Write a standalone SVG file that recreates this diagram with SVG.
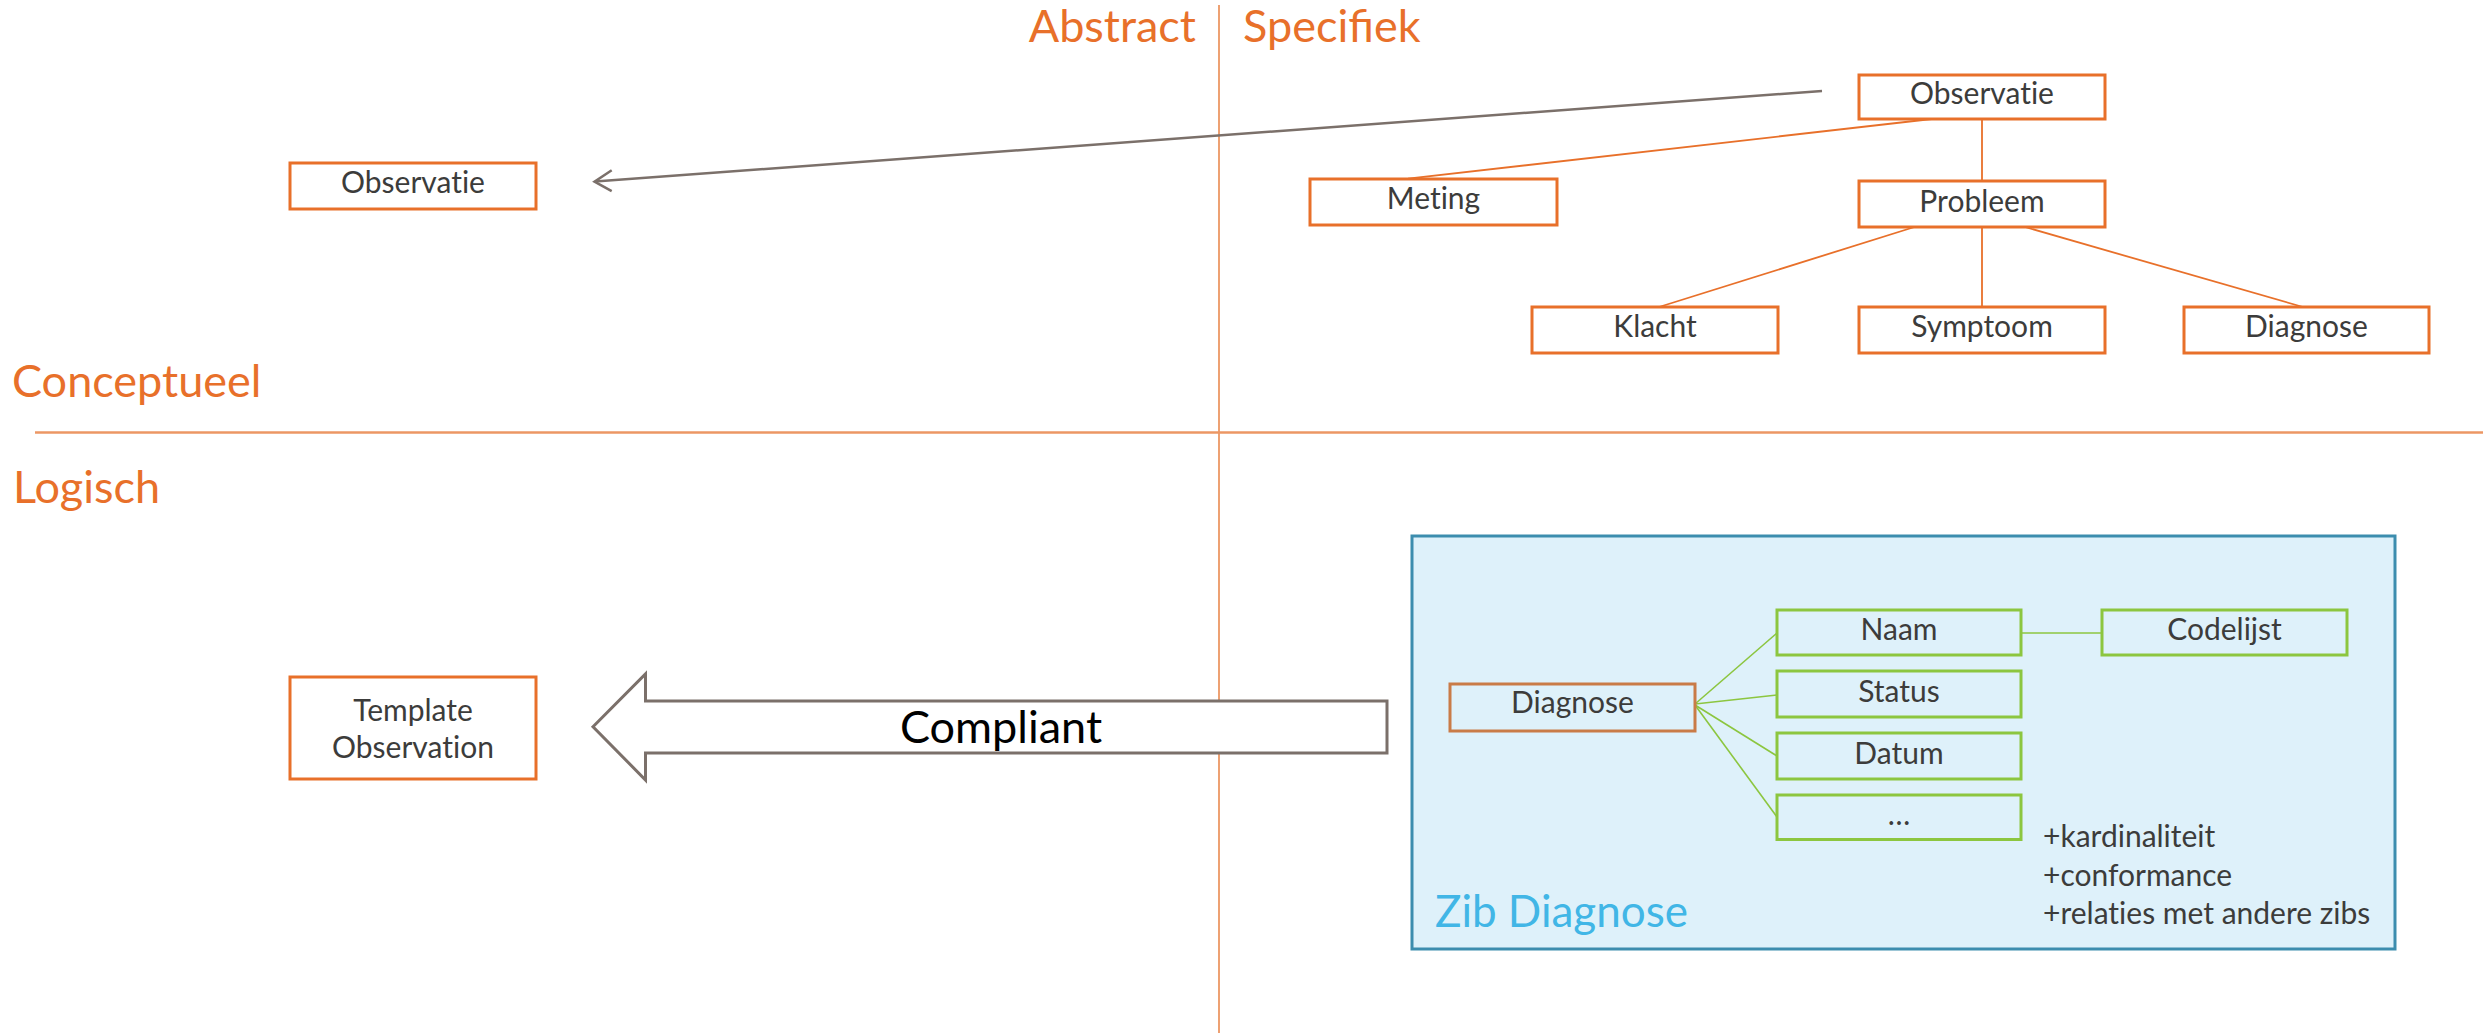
<svg xmlns="http://www.w3.org/2000/svg" width="2483" height="1033" viewBox="0 0 2483 1033">
<style>
.hdr{font-family:Lato,"Noto Sans",sans-serif;font-size:45px;fill:#e8702a}
.lbl{font-family:Lato,"Noto Sans",sans-serif;font-size:30px;fill:#3c3c3b;text-anchor:middle;font-variant-ligatures:none}
.note{font-family:Lato,"Noto Sans",sans-serif;font-size:30px;fill:#3c3c3b;font-variant-ligatures:none}
.obox{fill:#ffffff;stroke:#e8702a;stroke-width:3}
.gbox{fill:none;stroke:#8cc63f;stroke-width:3}
.oline{stroke:#e8702a;stroke-width:1.8;fill:none}
.gline{stroke:#8cc63f;stroke-width:1.6;fill:none}
.axis{stroke:#ec9764;fill:none}
</style>
<rect width="2483" height="1033" fill="#ffffff"/>
<g id="axes">
  <line class="axis" x1="1219" y1="5" x2="1219" y2="1033" stroke-width="1.8"/>
  <line class="axis" x1="35" y1="432.5" x2="2483" y2="432.5" stroke-width="2.5"/>
  <text class="hdr" x="1196" y="42" text-anchor="end">Abstract</text>
  <text class="hdr" x="1243" y="42">Specifiek</text>
  <text class="hdr" x="12" y="397">Conceptueel</text>
  <text class="hdr" x="13" y="503">Logisch</text>
</g>
<g id="connectors">
  <line class="oline" x1="1931.7" y1="119" x2="1408" y2="178.7"/>
  <line class="oline" x1="1982" y1="119" x2="1982" y2="181" stroke="#ec9764"/>
  <line class="oline" x1="1914.5" y1="227" x2="1659" y2="307"/>
  <line class="oline" x1="1982" y1="227" x2="1982" y2="307"/>
  <line class="oline" x1="2025" y1="227" x2="2303" y2="307"/>
  <line x1="1822" y1="91" x2="595" y2="181.6" stroke="#7b706a" stroke-width="2.5"/>
  <polyline points="611.7,170.2 594.5,181.6 611.7,191.2" fill="none" stroke="#7b706a" stroke-width="2.5"/>
  <polygon points="593,726.7 645.5,674 645.5,701 1387,701 1387,753 645.5,753 645.5,780" fill="#ffffff" stroke="#7b706a" stroke-width="3"/>
  <text x="1001" y="743" font-family="Lato,'Noto Sans',sans-serif" font-size="45" fill="#000000" text-anchor="middle">Compliant</text>
</g>
<g id="obs-abstract">
  <rect class="obox" x="290" y="163" width="246" height="46"/>
  <text class="lbl" x="413" y="193">Observatie</text>
</g>
<g id="template-observation">
  <rect class="obox" x="290" y="677" width="246" height="102"/>
  <text class="lbl" x="413" y="721">Template</text>
  <text class="lbl" x="413" y="758">Observation</text>
</g>
<g id="obs-specifiek">
  <rect class="obox" x="1859" y="75" width="246" height="44"/>
  <text class="lbl" x="1982" y="104">Observatie</text>
</g>
<g id="meting">
  <rect class="obox" x="1310" y="179" width="247" height="46"/>
  <text class="lbl" x="1433.5" y="209">Meting</text>
</g>
<g id="probleem">
  <rect class="obox" x="1859" y="181" width="246" height="46"/>
  <text class="lbl" x="1982" y="211.5">Probleem</text>
</g>
<g id="klacht">
  <rect class="obox" x="1532" y="307" width="246" height="46"/>
  <text class="lbl" x="1655" y="336.5">Klacht</text>
</g>
<g id="symptoom">
  <rect class="obox" x="1859" y="307" width="246" height="46"/>
  <text class="lbl" x="1982" y="336.5">Symptoom</text>
</g>
<g id="diagnose">
  <rect class="obox" x="2184" y="307" width="245" height="46"/>
  <text class="lbl" x="2306.5" y="336.5">Diagnose</text>
</g>
<g id="zib-diagnose">
  <rect x="1412" y="536" width="983" height="413" fill="#def1fa" stroke="#3c8dae" stroke-width="3"/>
  <text x="1435" y="927" font-family="Lato,'Noto Sans',sans-serif" font-size="44" fill="#41b6e6">Zib Diagnose</text>
  <text class="note" x="2043" y="847">+kardinaliteit</text>
  <text class="note" x="2043" y="886">+conformance</text>
  <text class="note" x="2043" y="924">+relaties met andere zibs</text>
</g>
<g id="zib-connectors">
  <line class="gline" x1="1695" y1="704" x2="1777" y2="633"/>
  <line class="gline" x1="1695" y1="704" x2="1777" y2="695"/>
  <line class="gline" x1="1695" y1="705" x2="1777" y2="756"/>
  <line class="gline" x1="1695" y1="705" x2="1777" y2="817"/>
  <line class="gline" x1="2021" y1="633" x2="2102" y2="633"/>
</g>
<g id="zib-diagnose-root">
  <rect x="1450" y="684" width="245" height="47" fill="none" stroke="#c97b47" stroke-width="3"/>
  <text class="lbl" x="1572.5" y="713">Diagnose</text>
</g>
<g id="naam">
  <rect class="gbox" x="1777" y="610" width="244" height="45"/>
  <text class="lbl" x="1899" y="640">Naam</text>
</g>
<g id="codelijst">
  <rect class="gbox" x="2102" y="610" width="245" height="45"/>
  <text class="lbl" x="2224.5" y="640">Codelijst</text>
</g>
<g id="status">
  <rect class="gbox" x="1777" y="671" width="244" height="46"/>
  <text class="lbl" x="1899" y="701.5">Status</text>
</g>
<g id="datum">
  <rect class="gbox" x="1777" y="733" width="244" height="46"/>
  <text class="lbl" x="1899" y="763.5">Datum</text>
</g>
<g id="more">
  <rect class="gbox" x="1777" y="795" width="244" height="44.5"/>
  <text class="lbl" x="1899" y="825">…</text>
</g>
</svg>
